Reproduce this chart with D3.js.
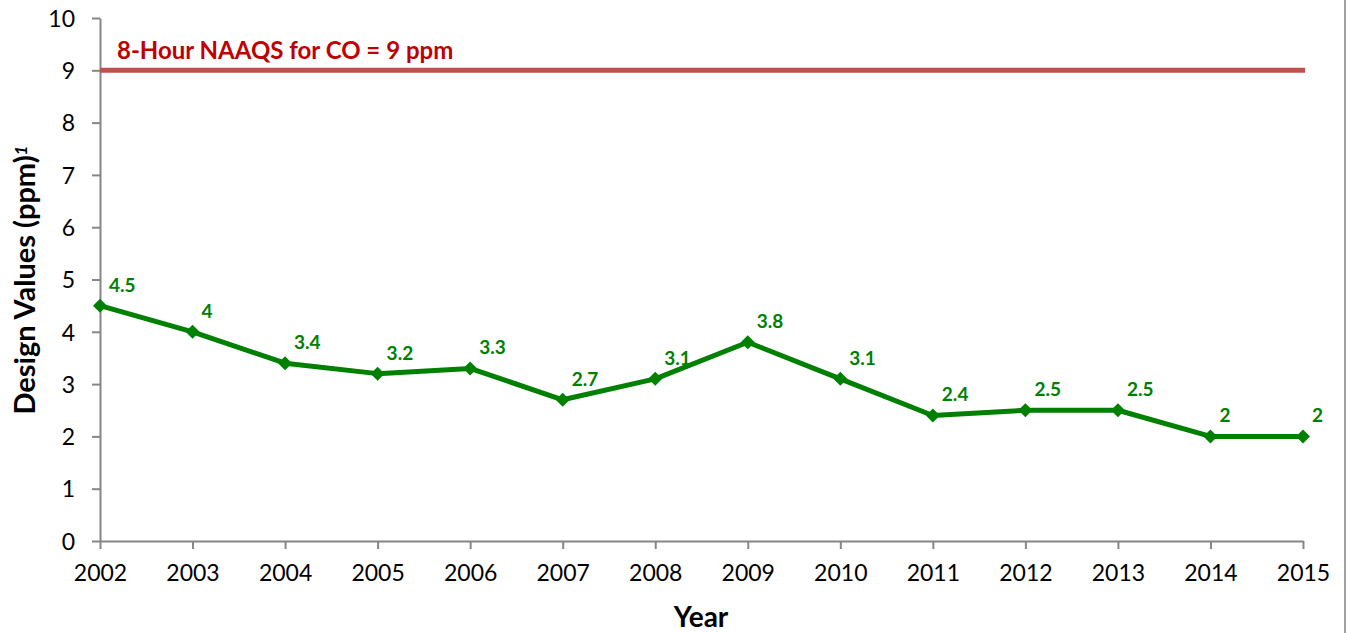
<!DOCTYPE html>
<html>
<head>
<meta charset="utf-8">
<script src="https://cdn.jsdelivr.net/npm/d3@7"></script>
<style>
  body { margin: 0; background: #fff; }
  svg { display: block; font-family: Lato, "Open Sans", sans-serif; }
</style>
</head>
<body>
<svg width="1349" height="633"></svg>
<script>
// design values (ppm), one per year
var years = [2002, 2003, 2004, 2005, 2006, 2007, 2008, 2009, 2010, 2011, 2012, 2013, 2014, 2015];
var values = [4.5, 4, 3.4, 3.2, 3.3, 2.7, 3.1, 3.8, 3.1, 2.4, 2.5, 2.5, 2, 2];
var yTicks = [0, 1, 2, 3, 4, 5, 6, 7, 8, 9, 10];
var standard = 9;
var standardLabel = "8-Hour NAAQS for CO = 9 ppm";

var green = "#008000";
var red = "#c0504d";

var svg = d3.select("svg");
var margin = {top: 18, right: 46, bottom: 92, left: 100};
var width = 1349 - margin.left - margin.right;
var height = 633 - margin.top - margin.bottom;

var g = svg.append("g")
    .attr("transform", "translate(" + margin.left + "," + margin.top + ")");

var x = d3.scaleLinear().domain([2002, 2015]).range([0, 1203]);
var y = d3.scaleLinear().domain([0, 10]).range([height, 0]);

// right border of the chart area
svg.append("line")
    .attr("x1", 1345).attr("x2", 1345)
    .attr("y1", 0).attr("y2", 633)
    .attr("stroke", "#a0a0a0").attr("stroke-width", 2);

// axes
var yAxis = g.append("g")
    .call(d3.axisLeft(y).tickValues(yTicks).tickSize(8).tickSizeOuter(0).tickPadding(17));
var xAxis = g.append("g")
    .attr("transform", "translate(0," + height + ")")
    .call(d3.axisBottom(x).tickValues(years).tickFormat(d3.format("d")).tickSize(8).tickSizeOuter(0).tickPadding(14));

[yAxis, xAxis].forEach(function(a) {
    a.selectAll("path, line").attr("stroke", "#868686").attr("stroke-width", 2);
    a.selectAll("text").attr("fill", "#000").style("font-size", "23px")
        .style("font-family", "Lato, sans-serif");
});
xAxis.selectAll("text").attr("dy", "0.8em");
yAxis.selectAll("text").attr("dy", "0.36em");

// standard line
g.append("line")
    .attr("x1", x(2002)).attr("x2", x(2015) + 2)
    .attr("y1", y(standard)).attr("y2", y(standard))
    .attr("stroke", red).attr("stroke-width", 5);

g.append("text")
    .attr("x", 17).attr("y", y(standard) - 11)
    .attr("fill", "#c00000")
    .style("font-size", "24px").style("font-weight", "bold")
    .text(standardLabel);

// data line
var pts = years.map(function(yr, i) { return {year: yr, value: values[i]}; });

g.append("path")
    .datum(pts)
    .attr("fill", "none")
    .attr("stroke", green)
    .attr("stroke-width", 5)
    .attr("stroke-linejoin", "round")
    .attr("d", d3.line().x(function(d) { return x(d.year); }).y(function(d) { return y(d.value); }));

g.selectAll(".marker")
    .data(pts)
    .enter().append("path")
    .attr("class", "marker")
    .attr("transform", function(d) { return "translate(" + x(d.year) + "," + y(d.value) + ")"; })
    .attr("d", "M0,-7L7,0L0,7L-7,0Z")
    .attr("fill", green);

g.selectAll(".lbl")
    .data(pts)
    .enter().append("text")
    .attr("class", "lbl")
    .attr("x", function(d) { return x(d.year) + 9; })
    .attr("y", function(d) { return y(d.value) - 14; })
    .attr("fill", green)
    .style("font-size", "19px").style("font-weight", "bold")
    .text(function(d) { return d.value; });

// axis titles
svg.append("text")
    .attr("x", 701).attr("y", 627)
    .attr("text-anchor", "middle")
    .style("font-size", "28px").style("font-weight", "bold")
    .text("Year");

var yt = svg.append("text")
    .attr("transform", "translate(35,280) rotate(-90)")
    .attr("text-anchor", "middle")
    .style("font-size", "29px").style("font-weight", "bold");
yt.append("tspan").text("Design Values (ppm)");
yt.append("tspan").attr("dy", "-0.45em").style("font-size", "17px").style("font-style", "italic").text("1");
</script>
</body>
</html>
